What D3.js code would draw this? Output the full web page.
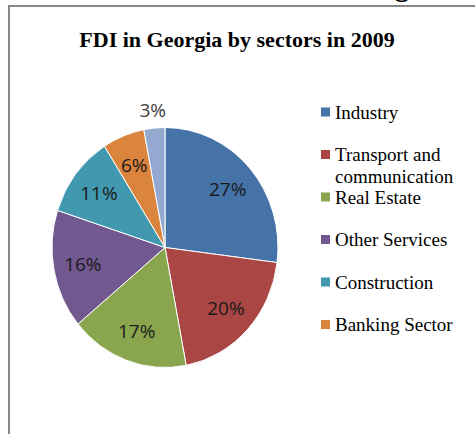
<!DOCTYPE html>
<html>
<head>
<meta charset="utf-8">
<script src="https://cdn.jsdelivr.net/npm/d3@7"></script>
<style>
  body { margin: 0; background: #fff; }
  svg { display: block; }
</style>
</head>
<body>
<svg id="chart" width="475" height="434"></svg>
<script>
const sectors = ["Industry", "Transport and communication", "Real Estate",
  "Other Services", "Construction", "Banking Sector", "Other"];
const shares = [27, 20, 17, 16, 11, 6, 3];
const colors = ["#4572A7", "#AA4643", "#89A54E", "#71588F", "#4198AF", "#DB843D", "#93A9CF"];
// legend is cut off in the picture, only first six entries visible
const legendLines = [["Industry"], ["Transport and", "communication"], ["Real Estate"],
  ["Other Services"], ["Construction"], ["Banking Sector"]];

const svg = d3.select("#chart");

// frame of the chart area (cropped screenshot)
svg.append("path")
  .attr("d", "M9,434 V6 H475")
  .attr("fill", "none")
  .attr("stroke", "#878787")
  .attr("stroke-width", 2);

// descender of a heading above the crop
svg.append("text")
  .attr("x", 402)
  .attr("y", -4)
  .attr("text-anchor", "middle")
  .style("font", "bold 28px 'Liberation Serif'")
  .text("g");

svg.append("text")
  .attr("x", 237)
  .attr("y", 47)
  .attr("text-anchor", "middle")
  .style("font", "bold 22px 'Liberation Serif'")
  .attr("fill", "#000")
  .text("FDI in Georgia by sectors in 2009");

const cx = 165, cy = 247.5, rx = 113, ry = 120;

const pie = d3.pie().sort(null).value(d => d);
const arcs = pie(shares);
const arc = d3.arc().innerRadius(0).outerRadius(rx);

const g = svg.append("g")
  .attr("transform", `translate(${cx},${cy}) scale(1,${ry / rx})`);

g.selectAll("path")
  .data(arcs)
  .enter()
  .append("path")
  .attr("d", arc)
  .attr("fill", (d, i) => colors[i])
  .attr("stroke", "#fff")
  .attr("stroke-width", 1)
  .attr("vector-effect", "non-scaling-stroke");

const last = arcs.length - 1;
const labelPos = (d, i) => {
  const a = (d.startAngle + d.endAngle) / 2;
  const k = i === last ? 1.15 : 0.74;
  return [cx + Math.sin(a) * k * rx, cy - Math.cos(a) * k * ry];
};

svg.selectAll("text.lbl")
  .data(arcs)
  .enter()
  .append("text")
  .classed("lbl", true)
  .attr("x", (d, i) => labelPos(d, i)[0])
  .attr("y", (d, i) => labelPos(d, i)[1])
  .attr("text-anchor", "middle")
  .attr("dominant-baseline", "central")
  .attr("fill", (d, i) => i === last ? "#404040" : "#1a1a1a")
  .style("font", "19px 'Open Sans'")
  .text((d, i) => shares[i] + "%");

const legend = svg.append("g");
const rowY = d3.scaleLinear().domain([0, 1]).range([118.5, 161]);

legendLines.forEach((lines, i) => {
  const y = rowY(i);
  legend.append("rect")
    .attr("x", 321)
    .attr("y", y - 11)
    .attr("width", 9)
    .attr("height", 9)
    .attr("fill", colors[i]);
  lines.forEach((t, j) => {
    legend.append("text")
      .attr("x", 335)
      .attr("y", y + j * 22)
      .style("font", "19px 'Liberation Serif'")
      .attr("fill", "#000")
      .text(t);
  });
});
</script>
</body>
</html>
